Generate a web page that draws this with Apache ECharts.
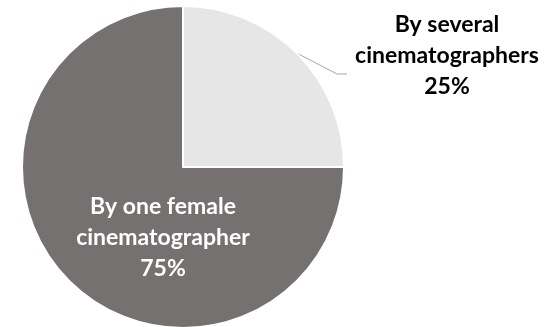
<!DOCTYPE html>
<html>
<head>
<meta charset="utf-8">
<script src="https://cdn.jsdelivr.net/npm/echarts@6/dist/echarts.min.js"></script>
<style>
  html, body { margin: 0; padding: 0; background: #fff; }
  #chart { width: 553px; height: 327px; }
</style>
</head>
<body>
<div id="chart"></div>
<script>
// Share of films by who did the cinematography
const categories = ['By several\ncinematographers', 'By one female\ncinematographer'];
const shares = [25, 75];
const sliceColors = ['#e6e6e6', '#767171'];
const labelColors = ['#000000', '#ffffff'];

const chart = echarts.init(document.getElementById('chart'));

const data = categories.map((name, i) => ({
  name: name,
  value: shares[i],
  itemStyle: { color: sliceColors[i] },
  label: {
    position: i === 0 ? 'outside' : 'inside',
    color: labelColors[i]
  },
  labelLine: { show: i === 0 }
}));

chart.setOption({
  animation: false,
  series: [{
    type: 'pie',
    center: [183, 167],
    radius: [0, 161],
    startAngle: 90,
    clockwise: true,
    itemStyle: { borderColor: '#ffffff', borderWidth: 2 },
    label: {
      show: true,
      fontFamily: 'Lato',
      fontWeight: 'bold',
      fontSize: 23,
      lineHeight: 31,
      align: 'center',
      formatter: p => p.name + '\n' + Math.round(p.percent) + '%'
    },
    labelLine: {
      show: true,
      lineStyle: { color: '#a6a6a6', width: 1 }
    },
    labelLayout: function (params) {
      if (params.dataIndex === 0) {
        const start = params.labelLinePoints ? params.labelLinePoints[0] : [297, 53];
        return {
          x: 447, y: 56,
          align: 'center', verticalAlign: 'middle',
          labelLinePoints: [start, [337, 74], [347, 74]]
        };
      }
      return { x: 163, y: 238, align: 'center', verticalAlign: 'middle' };
    },
    data: data
  }]
});
</script>
</body>
</html>
